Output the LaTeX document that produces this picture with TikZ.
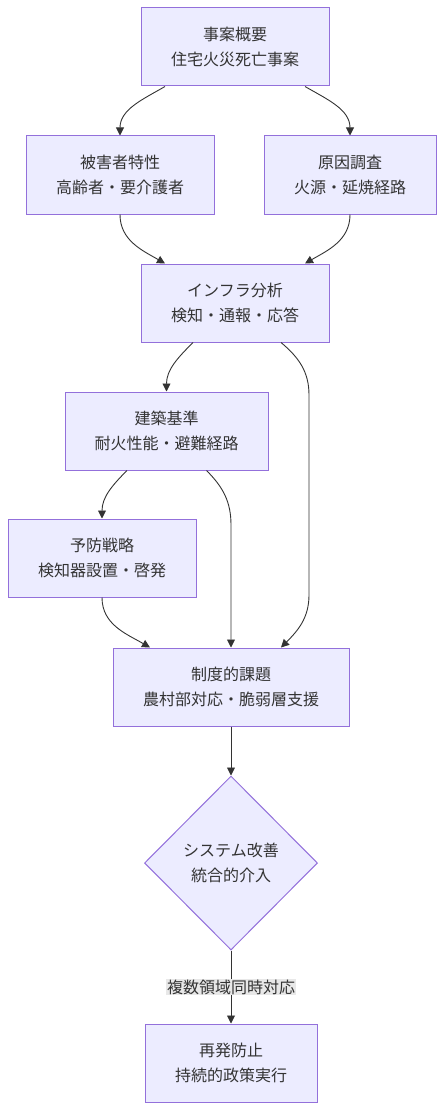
\documentclass[tikz,border=0pt]{standalone}
\usepackage{fontspec}
\setmainfont{Noto Sans CJK JP}
\usepackage{tikz}
\usetikzlibrary{shapes.geometric, arrows.meta, positioning}
\definecolor{boxfill}{HTML}{ECECFF}
\definecolor{boxline}{HTML}{9370DB}
\definecolor{ink}{HTML}{333333}
\definecolor{labelbg}{HTML}{E8E8E8}

\begin{document}
\begin{tikzpicture}[
		x=1pt, y=-1pt,
		box/.style = {rectangle, draw=boxline, fill=boxfill, line width=1pt, minimum height=78pt, align=center, text=ink, font=\fontsize{16}{25}\selectfont},
		decision/.style = {diamond, draw=boxline, fill=boxfill, line width=1pt, minimum width=173pt, minimum height=174pt, align=center, text=ink, font=\fontsize{16}{25}\selectfont},
		arrow/.style = {draw=ink, line width=0.9pt, -{Triangle[length=8pt, width=8pt]}},
		edgelabel/.style = {fill=labelbg, text=ink, inner sep=1pt, font=\fontsize{16}{20}\selectfont}
		]
		\useasboundingbox (0,0) rectangle (444,1110);
		
		% Nodes
		\node[box, minimum width=188pt] (Overview) at (235,47) {事案概要\\住宅火災死亡事案};
		\node[box, minimum width=188pt] (Victims) at (120,175) {被害者特性\\高齢者・要介護者};
		\node[box, minimum width=172pt] (Cause) at (350,175) {原因調査\\火源・延焼経路};
		\node[box, minimum width=188pt] (Infra) at (235,303) {インフラ分析\\検知・通報・応答};
		\node[box, minimum width=203pt] (Building) at (166.5,431) {建築基準\\耐火性能・避難経路};
		\node[box, minimum width=188pt] (Prevention) at (102,558) {予防戦略\\検知器設置・啓発};
		\node[box, minimum width=236pt] (Institution) at (231,687) {制度的課題\\農村部対応・脆弱層支援};
		\node[decision] (Improve) at (231,863) {システム改善\\統合的介入};
		\node[box, minimum width=172pt] (Recurrence) at (231,1063) {再発防止\\持続的政策実行};
		
		% Bends
		\coordinate (InfraBend1) at (309,395);
		\coordinate (InfraBend2) at (309,595);
		\coordinate (BuildingBend) at (231,525);
		
		% Arrows
		\draw[arrow] ([xshift=-70pt]Overview.south) to[out=-150, in=90] (Victims.north);
		\draw[arrow] ([xshift=70pt]Overview.south) to[out=-30, in=90] (Cause.north);
		\draw[arrow] (Victims.south) to[out=-90, in=150] ([xshift=-70pt]Infra.north);
		\draw[arrow] (Cause.south) to[out=-90, in=30] ([xshift=70pt]Infra.north);
		\draw[arrow] ([xshift=-42pt]Infra.south) to[out=-135, in=90] (Building.north);
		\draw[arrow] ([xshift=46pt]Infra.south) to[out=-40, in=90] (InfraBend1) -- (InfraBend2) to[out=-90, in=45] ([xshift=50pt]Institution.north);
		\draw[arrow] ([xshift=-39.5pt]Building.south) to[out=-135, in=90] (Prevention.north);
		\draw[arrow] ([xshift=40pt]Building.south) to[out=-45, in=90] (BuildingBend) -- (Institution.north);
		\draw[arrow] (Prevention.south) to[out=-90, in=150] ([xshift=-81pt]Institution.north);
		\draw[arrow] (Institution.south) -- (Improve.north);
		\draw[arrow] (Improve.south) -- node[edgelabel] {複数領域同時対応} (Recurrence.north);
		
	\end{tikzpicture}
\end{document}
